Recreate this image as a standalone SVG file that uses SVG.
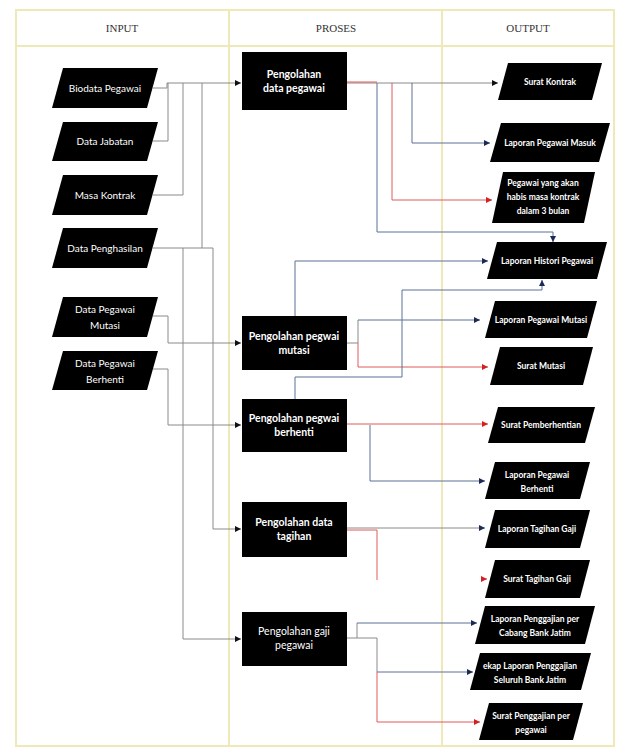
<svg xmlns="http://www.w3.org/2000/svg" width="625" height="753" viewBox="0 0 625 753">
<style>
.frame{fill:none;stroke:#efe9b8;stroke-width:2}
.hdr{font-family:"Liberation Serif",serif;font-size:11px;fill:#333;text-anchor:middle}
.io{fill:#000}
.tin{font-family:Lato,"Open Sans",sans-serif;font-size:10px;fill:#fff;text-anchor:middle}
.tout{font-family:Lato,"Open Sans",sans-serif;font-size:8.5px;font-weight:bold;fill:#fff;text-anchor:middle}
.tp{font-family:Lato,"Open Sans",sans-serif;font-size:10.5px;font-weight:bold;fill:#fff;text-anchor:middle}
.tpn{font-family:Lato,"Open Sans",sans-serif;font-size:10.5px;fill:#fff;text-anchor:middle}
.g{fill:none;stroke:#8a8a8a;stroke-width:1}
.b{fill:none;stroke:#5a7396;stroke-width:1}
.r{fill:none;stroke:#e05a5a;stroke-width:1}
</style>
<defs>
<marker id="ak" viewBox="0 0 6 6" refX="6" refY="3" markerWidth="6" markerHeight="6" markerUnits="userSpaceOnUse" orient="auto"><path d="M0,0L6,3L0,6z" fill="#111"/></marker>
<marker id="ab" viewBox="0 0 6 6" refX="6" refY="3" markerWidth="6" markerHeight="6" markerUnits="userSpaceOnUse" orient="auto"><path d="M0,0L6,3L0,6z" fill="#1c2b55"/></marker>
<marker id="ar" viewBox="0 0 6 6" refX="6" refY="3" markerWidth="6" markerHeight="6" markerUnits="userSpaceOnUse" orient="auto"><path d="M0,0L6,3L0,6z" fill="#d42020"/></marker>
</defs>
<rect x="0" y="0" width="625" height="753" fill="#fff"/>
<g id="frame">
<rect class="frame" x="16" y="10" width="598" height="736"/>
<line class="frame" x1="16" y1="46" x2="614" y2="46"/>
<line class="frame" x1="229" y1="10" x2="229" y2="746"/>
<line class="frame" x1="442" y1="10" x2="442" y2="746"/>
<text class="hdr" x="122" y="32">INPUT</text>
<text class="hdr" x="336" y="32">PROSES</text>
<text class="hdr" x="528" y="32">OUTPUT</text>
</g>
<g id="connectors">
<path class="g" d="M153,88 H167 V83"/>
<path class="g" d="M153,141 H168 V83"/>
<path class="g" d="M153,195 H183 V83"/>
<path class="g" d="M153,248 H213"/>
<path class="g" d="M202,248 V83"/>
<path class="g" d="M167,83 H241" marker-end="url(#ak)"/>
<path class="g" d="M183,248 V639 H241" marker-end="url(#ak)"/>
<path class="g" d="M213,248 V529 H241" marker-end="url(#ak)"/>
<path class="g" d="M153,316 H168 V343 H241" marker-end="url(#ak)"/>
<path class="g" d="M153,369 H168 V425 H241" marker-end="url(#ak)"/>
<path class="g" d="M347,83 H498" marker-end="url(#ak)"/>
<path class="r" d="M347,82 H377"/>
<path class="b" d="M412,83 V143 H490" marker-end="url(#ab)"/>
<path class="r" d="M392,83 V200 H492" marker-end="url(#ar)"/>
<path class="b" d="M377,83 V232 H553 V242" marker-end="url(#ab)"/>
<path class="b" d="M295,316 V261 H488" marker-end="url(#ab)"/>
<path class="g" d="M347,343 H358 V320"/>
<path class="b" d="M358,320 H480" marker-end="url(#ab)"/>
<path class="r" d="M358,343 V367 H488" marker-end="url(#ar)"/>
<path class="b" d="M295,399 V377 H402 V290 H542 V280" marker-end="url(#ab)"/>
<path class="r" d="M347,424 H488" marker-end="url(#ar)"/>
<path class="b" d="M370,425 V481 H485" marker-end="url(#ab)"/>
<path class="g" d="M347,528 H485" marker-end="url(#ab)"/>
<path class="r" d="M347,530 H377 V580"/>
<path class="r" d="M481,579 H487" marker-end="url(#ar)"/>
<path class="g" d="M347,638 H357 V623"/>
<path class="b" d="M357,623 H477" marker-end="url(#ab)"/>
<path class="g" d="M357,638 H377 V672"/>
<path class="b" d="M377,672 H473" marker-end="url(#ab)"/>
<path class="r" d="M377,672 V722 H480" marker-end="url(#ar)"/>
</g>
<g id="in-biodata"><polygon class="io" points="63,68 158,68 147,108 52,108"/><text class="tin" x="105" y="92">Biodata Pegawai</text></g>
<g id="in-jabatan"><polygon class="io" points="63,122 158,122 147,161 52,161"/><text class="tin" x="105" y="145">Data Jabatan</text></g>
<g id="in-kontrak"><polygon class="io" points="63,175 158,175 147,215 52,215"/><text class="tin" x="105" y="199">Masa Kontrak</text></g>
<g id="in-penghasilan"><polygon class="io" points="63,228 158,228 147,268 52,268"/><text class="tin" x="105" y="252">Data Penghasilan</text></g>
<g id="in-mutasi"><polygon class="io" points="63,297 158,297 147,337 52,337"/><text class="tin" x="105" y="313">Data Pegawai</text><text class="tin" x="105" y="329">Mutasi</text></g>
<g id="in-berhenti"><polygon class="io" points="63,351 158,351 147,390 52,390"/><text class="tin" x="105" y="367">Data Pegawai</text><text class="tin" x="105" y="383">Berhenti</text></g>
<g id="p-datapegawai"><rect class="io" x="242" y="52" width="105" height="58"/><text class="tp" x="294" y="78">Pengolahan</text><text class="tp" x="294" y="92">data pegawai</text></g>
<g id="p-mutasi"><rect class="io" x="242" y="316" width="105" height="54"/><text class="tp" x="294" y="340">Pengolahan pegwai</text><text class="tp" x="294" y="354">mutasi</text></g>
<g id="p-berhenti"><rect class="io" x="242" y="399" width="105" height="53"/><text class="tp" x="294" y="422">Pengolahan pegwai</text><text class="tp" x="294" y="436">berhenti</text></g>
<g id="p-tagihan"><rect class="io" x="242" y="502" width="105" height="55"/><text class="tp" x="294" y="526">Pengolahan data</text><text class="tp" x="294" y="540">tagihan</text></g>
<g id="p-gaji"><rect class="io" x="242" y="612" width="105" height="54"/><text class="tpn" x="294" y="635">Pengolahan gaji</text><text class="tpn" x="294" y="649">pegawai</text></g>
<g id="o-suratkontrak"><polygon class="io" points="508,63 602,63 592,100 498,100"/><text class="tout" x="550" y="85">Surat Kontrak</text></g>
<g id="o-masuk"><polygon class="io" points="501,123 610,123 599,162 490,162"/><text class="tout" x="550" y="146">Laporan Pegawai Masuk</text></g>
<g id="o-habis"><polygon class="io" points="503,172 595,172 584,223 492,223"/><text class="tout" x="543" y="186">Pegawai yang akan</text><text class="tout" x="543" y="200">habis masa kontrak</text><text class="tout" x="543" y="214">dalam 3 bulan</text></g>
<g id="o-histori"><polygon class="io" points="497,242 607,242 597,279 487,279"/><text class="tout" x="547" y="264">Laporan Histori Pegawai</text></g>
<g id="o-lapmutasi"><polygon class="io" points="495,301 597,301 587,338 485,338"/><text class="tout" x="541" y="323">Laporan Pegawai Mutasi</text></g>
<g id="o-suratmutasi"><polygon class="io" points="500,347 593,347 583,385 490,385"/><text class="tout" x="541" y="369">Surat Mutasi</text></g>
<g id="o-pemberhentian"><polygon class="io" points="498,407 595,407 585,443 488,443"/><text class="tout" x="541" y="428">Surat Pemberhentian</text></g>
<g id="o-lapberhenti"><polygon class="io" points="495,462 590,462 580,499 485,499"/><text class="tout" x="537" y="478">Laporan Pegawai</text><text class="tout" x="537" y="492">Berhenti</text></g>
<g id="o-laptagihan"><polygon class="io" points="495,510 590,510 580,548 485,548"/><text class="tout" x="537" y="532">Laporan Tagihan Gaji</text></g>
<g id="o-surattagihan"><polygon class="io" points="495,560 590,560 580,598 485,598"/><text class="tout" x="537" y="582">Surat Tagihan Gaji</text></g>
<g id="o-cabang"><polygon class="io" points="485,606 595,606 585,644 475,644"/><text class="tout" x="535" y="622">Laporan Penggajian per</text><text class="tout" x="535" y="636">Cabang Bank Jatim</text></g>
<g id="o-rekap"><polygon class="io" points="480,653 591,653 581,690 470,690"/><text class="tout" x="530" y="669">ekap Laporan Penggajian</text><text class="tout" x="530" y="683">Seluruh Bank Jatim</text></g>
<g id="o-suratgaji"><polygon class="io" points="489,703 583,703 573,740 479,740"/><text class="tout" x="531" y="719">Surat Penggajian per</text><text class="tout" x="531" y="733">pegawai</text></g>
</svg>
